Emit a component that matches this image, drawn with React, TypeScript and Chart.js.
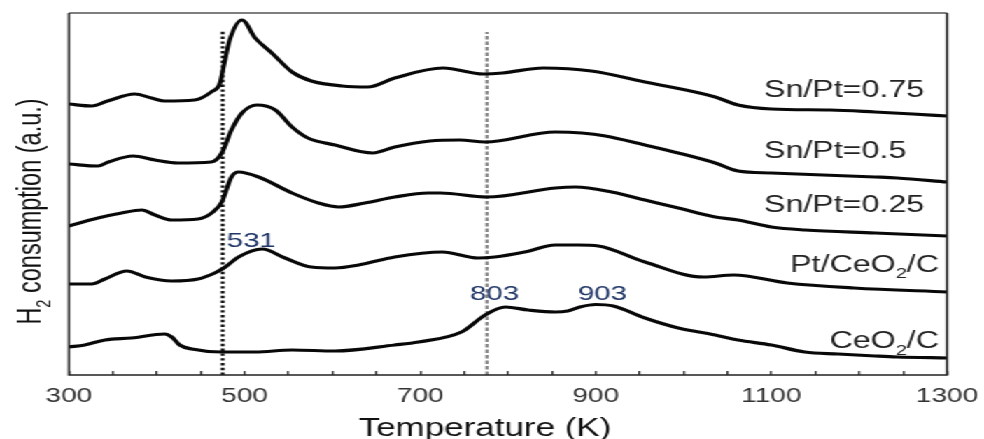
import React, { useEffect, useRef } from 'react';
import { Chart, registerables } from 'chart.js';

Chart.register(...registerables);

// ---- page geometry (the reference is horizontally stretched) ----
const OUT_W = 984;
const IN_W = 703;
const CANVAS_H = 439;
const SX = OUT_W / IN_W;

// ---- data: temperature (K) and H2 consumption (a.u.) ----
const snPt075T = [300, 326, 344, 375, 394, 409, 443, 462, 472, 476, 483, 497, 512, 531, 554, 576, 611, 640, 671, 726, 772, 794, 840, 895, 956, 1036, 1062, 1100, 1167, 1218, 1261, 1300];
const snPt075H = [271, 269, 274, 281, 277, 274, 275, 283, 292, 308, 335, 355, 337, 322, 303, 294, 289, 288, 297, 307, 301, 302, 307, 304, 293, 278, 270, 266, 265, 263, 261, 259];

const snPt05T = [300, 333, 345, 373, 398, 424, 462, 474, 485, 497, 514, 535, 554, 572, 603, 646, 671, 711, 745, 774, 854, 884, 911, 956, 994, 1036, 1062, 1100, 1218, 1243, 1300];
const snPt05H = [211, 209, 213, 219, 215, 212, 213, 222, 245, 262, 270, 265, 248, 237, 230, 222, 228, 234, 235, 233, 243, 242, 239, 230, 222, 212, 204, 202, 198, 197, 193];

const snPt025T = [300, 333, 360, 383, 398, 417, 447, 464, 474, 485, 493, 516, 554, 584, 607, 637, 671, 709, 723, 776, 854, 877, 918, 956, 994, 1036, 1062, 1100, 1138, 1218, 1300];
const snPt025H = [149, 157, 162, 165, 160, 155, 156, 163, 173, 198, 203, 198, 182, 172, 168, 172, 178, 182, 182, 178, 187, 188, 183, 175, 167, 158, 155, 148, 145, 142, 139];

const ptCeT = [300, 326, 341, 366, 387, 417, 447, 466, 478, 493, 520, 546, 576, 603, 630, 671, 725, 766, 785, 819, 854, 880, 903, 956, 1023, 1057, 1118, 1194, 1300];
const ptCeH = [91, 91, 96, 104, 98, 94, 96, 102, 108, 118, 126, 117, 108, 107, 110, 118, 123, 117, 118, 123, 130, 130, 129, 113, 98, 100, 92, 87, 83];

const ceT = [300, 318, 341, 371, 409, 417, 426, 440, 474, 512, 554, 603, 671, 698, 747, 774, 797, 823, 854, 868, 882, 900, 920, 956, 994, 1036, 1062, 1100, 1138, 1176, 1218, 1243, 1300];
const ceH = [28, 30, 35, 37, 41, 38, 30, 26, 23, 23, 25, 24, 30, 33, 43, 60, 68, 65, 63, 64, 68, 70.5, 69, 57, 47, 40, 35, 30, 23, 21, 19, 18, 17];

const seriesNames = ['Sn/Pt=0.75', 'Sn/Pt=0.5', 'Sn/Pt=0.25', 'Pt/CeO₂/C', 'CeO₂/C'];

// reference lines (temperature, top of line in a.u.)
const refLineT = [475, 776];
const refLineTop = [345, 343];

const peakLabels = ['531', '803', '903'];
const xTickLabels = ['300', '500', '700', '900', '1100', '1300'];
const xTitle = 'Temperature (K)';
const yTitle = 'H₂ consumption (a.u.)';
const yMax = 362;

// ---- annotation placement (data coordinates) ----
const peakLabelPos = [
  { t: 479.6, v: 128 },
  { t: 756.7, v: 75 },
  { t: 879.7, v: 75 },
];
const seriesLabelPos = [
  { t: 1091.6, v: 277.7, align: 'left' },
  { t: 1091.6, v: 216.7, align: 'left' },
  { t: 1091.6, v: 163.3, align: 'left' },
  { t: 1290.9, v: 103.3, align: 'right' },
  { t: 1290.9, v: 26.7, align: 'right' },
];

const FONT = '"Liberation Sans", Arial, Helvetica, sans-serif';

function drawRich(ctx: CanvasRenderingContext2D, text: string, x: number, y: number, size: number, align: string) {
  const parts = text.split('₂');
  const subSize = size * 0.62;
  const segs: { t: string; sub: boolean; w: number }[] = [];
  parts.forEach((p, i) => {
    if (p) segs.push({ t: p, sub: false, w: 0 });
    if (i < parts.length - 1) segs.push({ t: '2', sub: true, w: 0 });
  });
  let total = 0;
  for (const s of segs) {
    ctx.font = `${s.sub ? subSize : size}px ${FONT}`;
    s.w = ctx.measureText(s.t).width;
    total += s.w;
  }
  let cx = align === 'right' ? x - total : align === 'center' ? x - total / 2 : x;
  ctx.textAlign = 'left';
  ctx.textBaseline = 'alphabetic';
  for (const s of segs) {
    ctx.font = `${s.sub ? subSize : size}px ${FONT}`;
    ctx.fillText(s.t, cx, y + (s.sub ? size * 0.28 : 0));
    cx += s.w;
  }
}

const annotationPlugin = {
  id: 'tprAnnotations',
  afterDraw(chart: any) {
    const { ctx, chartArea } = chart;
    const xs = chart.scales.x;
    const ys = chart.scales.y;
    const { left, right, top, bottom } = chartArea;
    ctx.save();
    // frame
    ctx.lineCap = 'butt';
    ctx.strokeStyle = '#555';
    ctx.lineWidth = 1.5;
    ctx.beginPath();
    ctx.moveTo(left, top);
    ctx.lineTo(right, top);
    ctx.stroke();
    ctx.strokeStyle = '#222';
    ctx.lineWidth = 1.6;
    ctx.beginPath();
    ctx.moveTo(left, top);
    ctx.lineTo(left, bottom);
    ctx.lineTo(right, bottom);
    ctx.lineTo(right, top);
    ctx.stroke();

    // peak numbers
    ctx.fillStyle = '#1f3566';
    peakLabels.forEach((lab, i) => {
      const p = peakLabelPos[i];
      drawRich(ctx, lab, xs.getPixelForValue(p.t), ys.getPixelForValue(p.v), 21, 'left');
    });

    // series names
    ctx.fillStyle = '#222';
    seriesNames.forEach((name, i) => {
      const p = seriesLabelPos[i];
      drawRich(ctx, name, xs.getPixelForValue(p.t), ys.getPixelForValue(p.v), 23, p.align);
    });

    // axis titles
    ctx.fillStyle = '#111';
    drawRich(ctx, xTitle, 485 / SX, 436, 25, 'center');
    ctx.translate(41 / SX, 211.5);
    ctx.rotate(-Math.PI / 2);
    drawRich(ctx, yTitle, 0, 0, 23.5, 'center');
    ctx.restore();
  },
};

export default function App() {
  const canvasRef = useRef<HTMLCanvasElement | null>(null);

  useEffect(() => {
    document.body.style.margin = '0';
    document.documentElement.style.overflow = 'hidden';
    const canvas = canvasRef.current;
    if (!canvas) return;

    const series = [
      { T: snPt075T, H: snPt075H },
      { T: snPt05T, H: snPt05H },
      { T: snPt025T, H: snPt025H },
      { T: ptCeT, H: ptCeH },
      { T: ceT, H: ceH },
    ];

    const datasets: any[] = series.map((s, k) => ({
      label: seriesNames[k],
      data: s.T.map((t, i) => ({ x: t, y: s.H[i] })),
      borderColor: '#080808',
      borderWidth: 3.2,
      pointRadius: 0,
      fill: false,
      cubicInterpolationMode: 'monotone',
      order: 1,
    }));
    datasets.push({
      label: 'ref1',
      data: [{ x: refLineT[0], y: 0 }, { x: refLineT[0], y: refLineTop[0] }],
      borderColor: '#111',
      borderWidth: 2.8,
      borderDash: [2.4, 2.4],
      borderCapStyle: 'butt',
      pointRadius: 0,
      tension: 0,
      order: 5,
    });
    datasets.push({
      label: 'ref2',
      data: [{ x: refLineT[1], y: 0 }, { x: refLineT[1], y: refLineTop[1] }],
      borderColor: '#8a8a8a',
      borderWidth: 2.4,
      borderDash: [3.5, 2],
      borderCapStyle: 'butt',
      pointRadius: 0,
      tension: 0,
      order: 5,
    });

    const chart = new Chart(canvas, {
      type: 'line',
      data: { datasets },
      options: {
        animation: false,
        responsive: false,
        devicePixelRatio: 1,
        layout: { padding: { top: 13, left: 0, right: 0, bottom: 0 } },
        plugins: { legend: { display: false }, tooltip: { enabled: false } },
        scales: {
          x: {
            type: 'linear',
            position: 'bottom',
            min: 300,
            max: 1300,
            ticks: {
              stepSize: 50,
              autoSkip: false,
              maxRotation: 0,
              padding: 13,
              color: '#333',
              font: { family: FONT, size: 20 },
              callback: (v: any) => (xTickLabels.includes(String(v)) ? String(v) : ''),
            },
            grid: { display: true, drawOnChartArea: false, drawTicks: true, tickLength: -4, color: '#333', lineWidth: 1.4 },
            border: { display: false },
            afterFit: (s: any) => {
              s.height = CANVAS_H - 375;
              s.paddingLeft = 0;
              s.paddingRight = 0;
            },
          },
          y: {
            type: 'linear',
            position: 'left',
            min: 0,
            max: yMax,
            ticks: { display: false },
            grid: { display: false },
            border: { display: false },
            afterFit: (s: any) => { s.width = 69 / SX; },
          },
          y2: {
            type: 'linear',
            position: 'right',
            min: 0,
            max: 1,
            ticks: { display: false },
            grid: { display: false },
            border: { display: false },
            afterFit: (s: any) => { s.width = IN_W - 947 / SX; },
          },
        },
      } as any,
      plugins: [annotationPlugin],
    });
    return () => chart.destroy();
  }, []);

  return (
    <div style={{ width: IN_W, height: CANVAS_H, transform: `scaleX(${SX})`, transformOrigin: '0 0', background: '#fff' }}>
      <canvas ref={canvasRef} width={IN_W} height={CANVAS_H} />
    </div>
  );
}
